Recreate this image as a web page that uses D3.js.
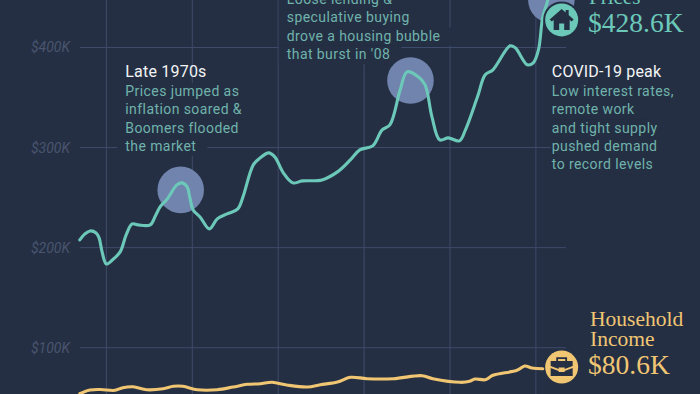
<!DOCTYPE html>
<html>
<head>
<meta charset="utf-8">
<script src="https://cdn.jsdelivr.net/npm/d3@7"></script>
<style>
html, body { margin: 0; padding: 0; background: #252f43; overflow: hidden; }
svg { display: block; }
</style>
</head>
<body>
<svg id="chart" width="700" height="394"></svg>
<script>
"use strict";

// house prices (inflation adjusted), $K
const priceYears = [1966.9,1967.5,1968.1,1968.8,1969.15,1969.5,1970,1970.7,1971.6,1972.3,1973,1973.7,1975.1,1975.7,1976.25,1977.1,1977.4,1978.2,1978.8,1979.4,1979.7,1980.1,1980.9,1982,1982.9,1984.05,1985.3,1985.9,1987.1,1987.9,1988.9,1989.6,1990.6,1991.7,1992.8,1995.1,1996.9,1998.4,1999.5,2001,2002.1,2003,2004.2,2005,2006.3,2007.1,2007.9,2008.8,2009.8,2011.1,2011.8,2013.2,2014.1,2015,2017,2017.6,2019,2019.7,2020.3,2020.8,2021.4,2021.8];
const priceValues = [207.7,213.7,216.7,214.7,209.7,195.7,183.7,187.7,195.7,212.7,223.7,222.7,222.7,231.7,240.7,248.7,252.7,262.7,264.7,260.7,250.7,237.7,230.7,218.7,228.7,233.7,238.7,250.7,282.7,289.7,294.7,290.7,274.7,264.7,266.7,267.7,275.7,287.7,297.7,301.7,317.7,322.7,357.7,375.7,370.7,362.7,330.7,307.7,309.7,306.7,317.7,350.7,372.7,377.7,401.7,399.7,382.7,384.7,397.7,430.7,447.7,470];

// household income, $K
const incomeYears = [1966.9,1968.1,1969.3,1971,1971.9,1973.1,1974.7,1976.6,1977.8,1978.9,1980.6,1982.9,1984.75,1986.4,1987.9,1989.3,1991,1993.4,1994.9,1996.9,1998.4,2000.35,2003.4,2006.75,2008,2011.2,2012.3,2012.9,2014.1,2015,2017.8,2018.7,2019.55,2020.8];
const incomeValues = [54,57.7,58.2,57.4,60,61,58,59,61.4,61.4,58,58,60.7,63.4,64,65.4,62.7,60.7,63,65.7,70.4,69,69,72,69,65.4,66.4,68.7,68,72.4,77.4,81.7,79.7,79];

const yTicks = [100, 200, 300, 400];
const xTicks = [1970, 1980, 1990, 2000, 2010, 2020];

const highlightYears = [1978.65, 2005.4, 2021.8];
const highlightValues = [257.7, 367, 447.7];

const endYear = 2023.0;
const endPrice = 428.6;
const endIncome = 80.6;

const noteTitles = ["Late 1970s", "", "COVID-19 peak"];
const noteBodies = [
	["Prices jumped as", "inflation soared &", "Boomers flooded", "the market"],
	["Loose lending &", "speculative buying", "drove a housing bubble", "that burst in '08"],
	["Low interest rates,", "remote work", "and tight supply", "pushed demand", "to record levels"]
];
const noteYears = [1972.2, 1991, 2021.85];
const noteValues = [370.7, 462.5, 370.7];


/*** SCALES ***/

const x = d3.scaleLinear().domain([1970, 2020]).range([106.4, 535.9]);
const y = d3.scaleLinear().domain([100, 400]).range([347.7, 47.5]);

const svg = d3.select("#chart");
const bg = "#252f43";
const gridColor = "#3e4b6a";
const teal = "#6cc9b9";
const gold = "#f0c673";
const noteColor = "#6fb3ac";
const bodyFont = "Roboto, sans-serif";
const serifFont = "'Liberation Serif', serif";


/*** GRID ***/

const gGrid = svg.append("g").attr("stroke", gridColor).attr("stroke-width", 1);

gGrid.selectAll("line.h").data(yTicks).join("line")
	.attr("class", "h")
	.attr("x1", 80).attr("x2", 566)
	.attr("y1", d => y(d)).attr("y2", d => y(d));

gGrid.selectAll("line.v").data(xTicks).join("line")
	.attr("class", "v")
	.attr("x1", d => x(d)).attr("x2", d => x(d))
	.attr("y1", 0).attr("y2", 394);

const gAxis = svg.append("g")
	.attr("transform", "translate(70,0)")
	.call(d3.axisLeft(y).tickValues(yTicks).tickSize(0).tickPadding(0).tickFormat(d => "$" + d + "K"));
gAxis.select(".domain").remove();
gAxis.selectAll("text")
	.attr("fill", "#49556f")
	.style("font", "italic 14px " + bodyFont);


/*** HIGHLIGHTS ***/

const gNotes = svg.append("g");

svg.append("g").selectAll("circle").data(highlightYears).join("circle")
	.attr("cx", d => x(d))
	.attr("cy", (d, i) => y(highlightValues[i]))
	.attr("r", 23.3)
	.attr("fill", "#7084ad");


/*** LINES ***/

const fn_line = d3.line()
	.x(d => x(d[0]))
	.y(d => y(d[1]))
	.curve(d3.curveCatmullRom.alpha(0.5));

svg.append("path")
	.attr("d", fn_line(d3.zip(priceYears, priceValues)))
	.attr("fill", "none")
	.attr("stroke", teal)
	.attr("stroke-width", 3.1)
	.attr("stroke-linecap", "round");

svg.append("path")
	.attr("d", fn_line(d3.zip(incomeYears, incomeValues)))
	.attr("fill", "none")
	.attr("stroke", gold)
	.attr("stroke-width", 3.1)
	.attr("stroke-linecap", "round");


/*** ICONS ***/

const gHouse = svg.append("g").attr("transform", `translate(${x(endYear)},${y(endPrice) + 1})`);
gHouse.append("circle").attr("r", 18.5).attr("fill", bg);
gHouse.append("circle").attr("r", 16.5).attr("fill", teal);
gHouse.append("path")
	.attr("d", "M0,-11 L4,-7.5 L4,-10 L7,-10 L7,-5 L12,-0.5 L10,1.5 L8,0 L8,10 L2.5,10 L2.5,3.5 L-2.5,3.5 L-2.5,10 L-8,10 L-8,0 L-10,1.5 L-12,-0.5 Z")
	.attr("fill", bg);

const gCase = svg.append("g").attr("transform", `translate(${x(endYear)},${y(endIncome)})`);
gCase.append("circle").attr("r", 16.5).attr("fill", gold);
gCase.append("path")
	.attr("d", "M-4.5,-6 V-9 H4.5 V-6 M-4.5,-6")
	.attr("fill", "none").attr("stroke", bg).attr("stroke-width", 1.8);
gCase.append("path")
	.attr("d", "M-11,-6 H11 V-1 L3,2 V0.5 H-3 V2 L-11,-1 Z M-11,1 L-3,4 V5 H3 V4 L11,1 V9 H-11 Z")
	.attr("fill", bg);


/*** ANNOTATIONS ***/

noteBodies.forEach((lines, n) => {
	const nx = x(noteYears[n]);
	const ny = y(noteValues[n]);
	const padLeft = n === 2 ? 1 : 8;
	const rows = lines.map((t, i) => ({ t, baseline: ny + 19.3 + i * 18.2 }));

	if (noteTitles[n])
		svg.append("text")
			.attr("x", nx).attr("y", ny)
			.attr("fill", "#f2f4f5")
			.style("font", "400 16px " + bodyFont)
			.style("letter-spacing", "0.2px")
			.text(noteTitles[n]);

	rows.forEach(r => {
		const label = svg.append("text")
			.attr("x", nx).attr("y", r.baseline)
			.attr("fill", noteColor)
			.style("font", "400 14px " + bodyFont)
			.style("letter-spacing", "0.42px")
			.text(r.t);
		const w = label.node().getComputedTextLength();
		// the gridlines stop short of the text
		gNotes.append("rect")
			.attr("x", nx - padLeft).attr("y", r.baseline - 13)
			.attr("width", w + padLeft + 11).attr("height", 18.2)
			.attr("fill", bg);
	});
});

svg.append("text").attr("x", 589).attr("y", 4).attr("fill", teal)
	.style("font", "21px " + serifFont).text("Prices");
svg.append("text").attr("x", 588).attr("y", 32).attr("fill", teal)
	.style("font", "27.5px " + serifFont).text("$" + endPrice + "K");

svg.append("text").attr("x", 590).attr("y", 326).attr("fill", gold)
	.style("font", "21.5px " + serifFont).text("Household");
svg.append("text").attr("x", 590).attr("y", 345.5).attr("fill", gold)
	.style("font", "21.5px " + serifFont).text("Income");
svg.append("text").attr("x", 588).attr("y", 373.7).attr("fill", gold)
	.style("font", "27.5px " + serifFont).text("$" + endIncome + "K");
</script>
</body>
</html>
